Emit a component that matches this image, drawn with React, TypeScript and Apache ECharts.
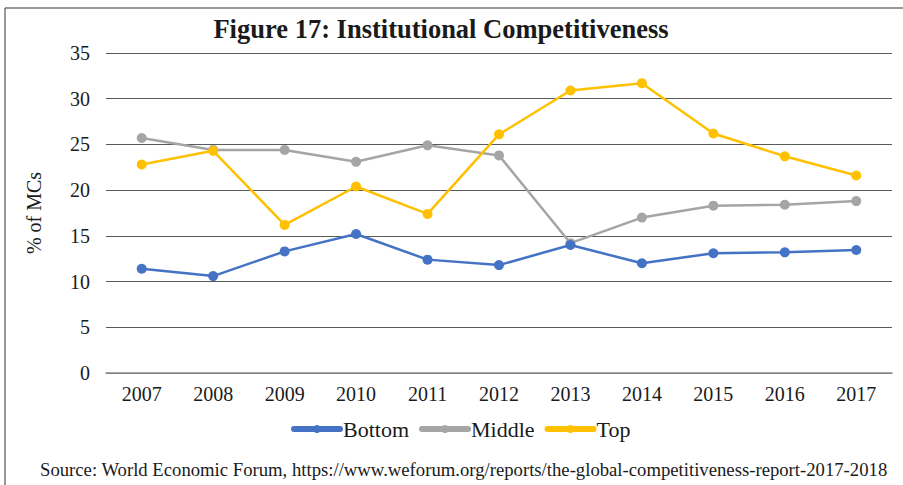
import React, { useEffect, useRef } from "react";
import * as echarts from "echarts";

const years = ["2007", "2008", "2009", "2010", "2011", "2012", "2013", "2014", "2015", "2016", "2017"];
const bottom = [11.4, 10.6, 13.3, 15.2, 12.4, 11.8, 14.0, 12.0, 13.1, 13.2, 13.45];
const middle = [25.7, 24.4, 24.4, 23.1, 24.9, 23.8, 14.2, 17.0, 18.3, 18.4, 18.8];
const top = [22.8, 24.3, 16.2, 20.4, 17.4, 26.1, 30.9, 31.7, 26.2, 23.7, 21.6];

const FONT = "'Liberation Serif', 'Times New Roman', serif";

export default function App() {
  const ref = useRef<HTMLDivElement>(null);
  useEffect(() => {
    if (!ref.current) return;
    const chart = echarts.init(ref.current, undefined, { renderer: "svg" });
    const mk = (name: string, data: number[], color: string) => ({
      name,
      type: "line",
      data,
      symbol: "circle",
      symbolSize: 10,
      lineStyle: { width: 2.5, color },
      itemStyle: { color },
      z: name === "Top" ? 3 : name === "Bottom" ? 4 : 2,
    });
    chart.setOption({
      animation: false,
      backgroundColor: "#ffffff",
      textStyle: { fontFamily: FONT },
      title: {
        text: "Figure 17: Institutional Competitiveness",
        left: 436,
        textAlign: "center",
        top: 10,
        textStyle: { fontFamily: FONT, fontWeight: "bold", fontSize: 26.5, color: "#1a1a1a" },
      },
      grid: { left: 106, right: 11, top: 53, bottom: 112 },
      xAxis: {
        type: "category",
        data: years,
        boundaryGap: true,
        axisLine: { show: true, lineStyle: { color: "#8c8c8c", width: 1.5 } },
        axisTick: { show: false },
        axisLabel: { fontFamily: FONT, fontSize: 20, color: "#1a1a1a", margin: 11 },
      },
      yAxis: {
        type: "value",
        min: 0,
        max: 35,
        interval: 5,
        name: "% of MCs",
        nameLocation: "middle",
        nameGap: 62,
        nameTextStyle: { fontFamily: FONT, fontSize: 20, color: "#1a1a1a" },
        axisLine: { show: false },
        axisTick: { show: false },
        axisLabel: { fontFamily: FONT, fontSize: 20, color: "#1a1a1a", margin: 16 },
        splitLine: { lineStyle: { color: "#5a5a5a", width: 1 } },
      },
      legend: {
        data: ["Bottom", "Middle", "Top"],
        bottom: 40,
        left: 286,
        itemWidth: 46,
        itemHeight: 10,
        itemGap: 10,
        lineStyle: { width: 6, cap: "round" },
        textStyle: { fontFamily: FONT, fontSize: 22, color: "#1a1a1a", padding: [0, 0, 0, -2] },
      },
      graphic: [
        {
          type: "rect",
          shape: { x: 5, y: 8, width: 1000, height: 1000 },
          style: { fill: "none", stroke: "#333333", lineWidth: 1 },
          silent: true,
        },
        {
          type: "text",
          left: 40,
          top: 460,
          style: {
            text: "Source: World Economic Forum, https://www.weforum.org/reports/the-global-competitiveness-report-2017-2018",
            font: `18.7px ${FONT}`,
            fill: "#1a1a1a",
          },
        },
      ],
      series: [
        mk("Bottom", bottom, "#4472C4"),
        mk("Middle", middle, "#A5A5A5"),
        mk("Top", top, "#FFC000"),
      ],
    });
    return () => chart.dispose();
  }, []);
  return <div ref={ref} style={{ width: 903, height: 485, position: "absolute", left: 0, top: 0 }} />;
}
